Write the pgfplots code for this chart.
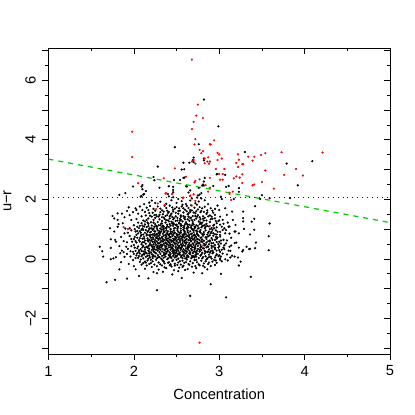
\documentclass[border=0pt]{standalone}
\usepackage{pgfplots}
\pgfplotsset{compat=1.18}
\usepackage{fontspec}
\setmainfont{Liberation Sans}
\begin{document}
\begin{tikzpicture}[x=1pt,y=1pt]
\path[use as bounding box] (-48.5,-61) rectangle (366.5,354);
\begin{axis}[
  at={(0,0)},anchor=south west,scale only axis,width=341.5pt,height=305.7pt,
  xmin=1,xmax=5,ymin=-3.19,ymax=7.07,
  xtick={1,2,3,4,5},ytick={-3,-2,-1,0,1,2,3,4,5,6,7},
  yticklabels={,−2,,0,,2,,4,,6,},
  minor x tick num=1,minor y tick num=1,
  tick align=outside,xtick pos=bottom,ytick pos=left,
  major tick length=6pt,minor tick length=3pt,
  tick style={black,line width=0.7pt},axis line style={line width=0.9pt},
  clip=true,
  /pgf/number format/assume math mode=true,
  tick label style={font=\fontsize{14.7}{16}\selectfont},
  label style={font=\fontsize{14.7}{16}\selectfont},
  xlabel={Concentration},ylabel={u−r},
  xlabel style={at={(0.5,0)},anchor=center,yshift=-40pt},
  ylabel style={at={(0,0.5)},anchor=center,yshift=41pt},
  xticklabel style={anchor=center,yshift=-11pt},
  yticklabel style={rotate=90,anchor=center,yshift=12pt},
]
\addplot[only marks,mark=*,mark size=0.95pt,mark options={draw=black,fill=black,line width=0.3pt}] coordinates {
(2.82,5.35)(2.99,4.45)(2.48,3.75)(2.76,3.85)(3.30,3.59)(4.09,3.28)(3.79,3.20)(2.70,3.40)(2.69,3.32)(2.70,3.25)(2.82,3.37)(2.82,3.31)(2.58,3.23)(2.65,3.23)(2.56,3.00)(2.59,3.01)(2.28,3.10)(2.98,2.85)(2.97,2.84)(3.07,2.82)(2.23,2.75)(2.24,2.64)(2.47,2.65)(2.54,2.65)(2.58,2.72)(2.59,2.73)(2.83,2.72)(2.82,2.60)(2.81,2.50)(2.80,2.46)(2.82,2.46)(3.92,2.47)(2.93,2.45)(3.11,2.45)(3.08,2.42)(3.23,2.38)(3.23,2.25)(2.10,2.48)(2.09,2.43)(2.10,2.34)(1.99,2.43)(2.30,2.39)(2.41,2.44)(2.46,2.42)(2.46,2.32)(2.46,2.24)(2.61,2.44)(2.62,2.43)(2.64,2.23)(2.66,2.30)(2.76,2.38)(2.11,2.16)(2.08,2.09)(2.41,2.10)(2.46,2.07)(2.40,2.18)(3.50,2.14)(3.59,2.04)(3.48,2.01)(3.83,2.04)(3.02,2.09)(3.03,2.01)(3.17,2.01)(2.75,2.13)(2.77,2.16)(2.79,2.21)(2.74,2.06)(2.79,2.03)(2.52,2.01)(2.68,2.03)
(1.83,2.15)(1.90,2.21)(2.09,2.11)(2.12,2.18)(2.14,2.28)
(1.94,1.73)(1.92,1.61)(2.02,1.70)(2.03,1.64)(2.10,1.64)(1.99,1.57)(1.81,1.53)(1.75,1.44)(1.77,1.36)(1.81,1.31)(1.82,1.17)(1.81,1.08)(1.72,1.03)(1.77,0.92)(1.87,1.20)(1.89,1.40)(1.97,1.31)(2.03,1.34)(2.05,1.22)(2.09,1.20)(2.11,1.29)(2.15,1.31)(2.18,1.89)(2.19,1.78)(2.15,1.72)(2.17,1.64)(1.95,1.03)(1.89,0.86)(1.95,0.77)(2.02,0.92)(2.03,0.81)(1.73,0.66)(1.78,0.64)(1.79,0.58)(1.88,0.60)(1.92,0.56)(1.98,0.58)(2.02,0.60)(1.91,0.41)(1.60,0.41)(1.63,0.26)(1.73,0.37)(1.64,0.08)(1.86,0.28)(1.88,0.23)(1.76,0.02)(1.79,0.06)(1.73,-0.01)(1.84,0.19)(1.92,0.17)(1.85,-0.11)(1.94,-0.17)(2.00,-0.24)(2.02,-0.35)(2.07,-0.10)(2.13,-0.09)(1.83,-0.35)(1.92,-0.66)(1.78,-0.70)(1.68,-0.78)(2.06,-0.57)(2.17,-0.65)(2.23,-0.44)(2.27,-0.48)(2.34,-0.43)(2.27,-1.05)
(3.28,1.59)(3.28,1.37)(3.28,1.26)(3.42,1.77)(3.41,1.35)(3.38,1.25)(3.59,1.19)(3.41,0.98)(3.29,1.01)(3.36,0.82)(3.58,0.76)(3.43,0.55)(3.32,0.41)(3.42,0.36)(3.58,0.29)(3.35,0.33)(3.36,0.34)(3.28,0.30)(3.27,0.25)(3.23,0.38)(3.20,0.55)(3.18,0.53)(3.14,0.45)(3.12,0.41)(3.13,0.27)(3.15,0.11)(3.13,0.05)(3.18,0.08)(3.22,0.05)(3.25,-0.09)(3.23,-0.22)(3.07,-0.01)(3.01,0.02)(2.95,-0.20)(2.90,-0.24)(2.83,-0.28)(2.80,-0.48)(3.02,-0.50)(2.90,-0.85)(3.37,-0.60)(3.08,-1.29)(3.19,1.14)(3.19,0.92)(3.23,0.86)(3.18,0.92)(3.16,1.31)(3.12,1.09)(3.11,1.08)(3.15,1.59)(3.07,1.70)(3.09,1.48)(3.00,1.64)(3.01,1.42)(2.95,1.48)(2.97,1.20)(3.03,1.08)(3.07,0.86)(3.01,0.75)(3.05,0.64)(2.66,-1.24)(2.56,-0.64)(2.45,-0.52)(2.52,-0.41)(2.60,-0.37)(2.70,-0.46)
(3.10,1.22)(3.04,1.31)(2.92,1.62)(2.98,1.79)(2.87,1.84)(2.90,1.70)(2.83,1.75)(3.14,0.71)(3.09,0.62)(3.11,0.28)(3.06,0.33)(3.04,0.18)(3.09,0.15)(2.99,0.10)(3.03,-0.08)(3.10,-0.05)(2.97,-0.13)(2.92,-0.09)
(2.13,-0.33)(2.21,-0.27)(2.29,-0.36)(2.33,-0.22)(2.38,-0.31)(2.44,-0.25)(2.47,-0.38)(2.53,-0.29)(2.58,-0.23)(2.63,-0.34)(2.68,-0.26)(2.73,-0.31)(2.77,-0.21)(2.86,-0.35)
(2.08,-0.02)(2.11,-0.14)(2.16,-0.05)(2.18,-0.17)(2.22,-0.08)(2.24,-0.19)(2.26,-0.03)(2.29,-0.12)(2.31,-0.18)(2.34,-0.06)(2.36,-0.15)(2.39,-0.01)(2.41,-0.11)(2.43,-0.18)(2.45,-0.07)(2.48,-0.16)(2.50,-0.03)(2.52,-0.12)(2.55,-0.19)(2.57,-0.06)(2.59,-0.13)(2.62,-0.02)(2.64,-0.17)(2.66,-0.08)(2.69,-0.14)(2.71,-0.04)(2.74,-0.11)(2.76,-0.18)(2.79,-0.06)(2.82,-0.15)(2.85,-0.02)(2.88,-0.12)(2.94,-0.03)
(2.03,0.12)(2.05,0.04)(2.07,0.18)(2.09,0.09)(2.11,0.02)(2.12,0.15)(2.14,0.07)(2.15,0.19)(2.17,0.01)(2.18,0.11)(2.19,0.05)(2.21,0.16)(2.22,0.03)(2.23,0.12)(2.25,0.08)(2.26,0.19)(2.27,0.02)(2.28,0.13)(2.30,0.06)(2.31,0.17)(2.32,0.01)(2.33,0.10)(2.35,0.04)(2.36,0.15)(2.37,0.08)(2.38,0.19)(2.40,0.02)(2.41,0.12)(2.42,0.06)(2.43,0.17)(2.44,0.03)(2.46,0.10)(2.47,0.15)(2.48,0.05)(2.49,0.19)(2.50,0.08)(2.51,0.13)(2.52,0.01)(2.53,0.17)(2.55,0.06)(2.56,0.11)(2.57,0.03)(2.58,0.15)(2.59,0.09)(2.61,0.18)(2.62,0.04)(2.63,0.12)(2.64,0.07)(2.66,0.16)(2.67,0.02)(2.68,0.10)(2.69,0.19)(2.71,0.05)(2.72,0.13)(2.73,0.08)(2.75,0.17)(2.76,0.03)(2.78,0.11)(2.79,0.15)(2.81,0.06)(2.83,0.18)(2.84,0.09)(2.86,0.02)(2.88,0.14)(2.90,0.07)(2.92,0.19)(2.95,0.05)(2.97,0.16)(3.00,0.12)(3.02,0.08)
(2.02,0.27)(2.04,0.36)(2.06,0.23)(2.08,0.33)(2.10,0.39)(2.11,0.25)(2.13,0.31)(2.14,0.21)(2.16,0.38)(2.17,0.28)(2.18,0.34)(2.20,0.22)(2.21,0.30)(2.22,0.37)(2.23,0.26)(2.24,0.33)(2.25,0.21)(2.27,0.39)(2.28,0.28)(2.29,0.35)(2.30,0.23)(2.31,0.31)(2.32,0.38)(2.33,0.25)(2.34,0.33)(2.35,0.21)(2.36,0.29)(2.37,0.37)(2.38,0.24)(2.39,0.34)(2.40,0.28)(2.41,0.39)(2.42,0.22)(2.43,0.31)(2.44,0.36)(2.45,0.26)(2.46,0.33)(2.47,0.21)(2.48,0.29)(2.49,0.38)(2.50,0.24)(2.51,0.34)(2.52,0.28)(2.53,0.37)(2.54,0.22)(2.55,0.31)(2.56,0.39)(2.57,0.26)(2.58,0.33)(2.59,0.21)(2.60,0.29)(2.61,0.36)(2.62,0.24)(2.63,0.32)(2.64,0.38)(2.65,0.27)(2.66,0.22)(2.67,0.34)(2.68,0.29)(2.69,0.39)(2.70,0.24)(2.71,0.31)(2.72,0.36)(2.73,0.22)(2.74,0.28)(2.75,0.34)(2.77,0.25)(2.78,0.38)(2.79,0.30)(2.80,0.21)(2.82,0.35)(2.83,0.27)(2.85,0.39)(2.86,0.23)(2.88,0.32)(2.90,0.26)(2.91,0.37)(2.93,0.22)(2.95,0.33)(2.97,0.28)(2.99,0.38)(3.01,0.24)(3.03,0.31)
(2.00,0.47)(2.03,0.55)(2.05,0.42)(2.07,0.58)(2.09,0.49)(2.11,0.44)(2.12,0.56)(2.14,0.51)(2.15,0.41)(2.17,0.59)(2.18,0.46)(2.19,0.53)(2.21,0.43)(2.22,0.57)(2.23,0.49)(2.24,0.41)(2.25,0.54)(2.26,0.47)(2.27,0.59)(2.28,0.44)(2.29,0.52)(2.30,0.41)(2.31,0.56)(2.32,0.48)(2.33,0.43)(2.34,0.58)(2.35,0.51)(2.36,0.45)(2.37,0.55)(2.38,0.42)(2.39,0.49)(2.40,0.59)(2.41,0.46)(2.42,0.53)(2.43,0.41)(2.44,0.57)(2.45,0.48)(2.46,0.44)(2.47,0.55)(2.48,0.51)(2.49,0.42)(2.50,0.59)(2.51,0.47)(2.52,0.54)(2.53,0.43)(2.54,0.57)(2.55,0.49)(2.56,0.41)(2.57,0.53)(2.58,0.46)(2.59,0.58)(2.60,0.44)(2.61,0.51)(2.62,0.56)(2.63,0.42)(2.64,0.48)(2.65,0.54)(2.66,0.45)(2.67,0.59)(2.68,0.41)(2.69,0.52)(2.70,0.47)(2.71,0.56)(2.72,0.43)(2.73,0.50)(2.74,0.58)(2.75,0.44)(2.76,0.53)(2.78,0.47)(2.79,0.41)(2.80,0.57)(2.82,0.51)(2.83,0.45)(2.85,0.55)(2.86,0.42)(2.88,0.49)(2.89,0.58)(2.91,0.44)(2.93,0.53)(2.95,0.47)(2.97,0.57)(3.00,0.43)(3.02,0.52)(3.06,0.46)
(2.04,0.71)(2.06,0.63)(2.08,0.77)(2.10,0.68)(2.12,0.74)(2.13,0.62)(2.15,0.79)(2.16,0.69)(2.18,0.64)(2.19,0.75)(2.20,0.61)(2.22,0.72)(2.23,0.67)(2.24,0.78)(2.25,0.63)(2.26,0.70)(2.28,0.76)(2.29,0.64)(2.30,0.79)(2.31,0.68)(2.32,0.61)(2.33,0.74)(2.34,0.66)(2.35,0.78)(2.36,0.63)(2.37,0.71)(2.38,0.76)(2.39,0.62)(2.40,0.69)(2.41,0.79)(2.42,0.65)(2.43,0.73)(2.44,0.61)(2.45,0.77)(2.46,0.68)(2.47,0.64)(2.48,0.75)(2.49,0.70)(2.50,0.62)(2.51,0.78)(2.52,0.66)(2.53,0.73)(2.54,0.61)(2.55,0.76)(2.56,0.69)(2.57,0.64)(2.58,0.79)(2.59,0.71)(2.60,0.62)(2.61,0.75)(2.62,0.67)(2.63,0.78)(2.64,0.63)(2.65,0.72)(2.66,0.68)(2.67,0.61)(2.68,0.76)(2.69,0.65)(2.70,0.79)(2.71,0.70)(2.72,0.62)(2.73,0.74)(2.74,0.67)(2.76,0.77)(2.77,0.63)(2.78,0.71)(2.80,0.65)(2.81,0.78)(2.82,0.61)(2.84,0.73)(2.85,0.67)(2.87,0.76)(2.89,0.62)(2.91,0.70)(2.93,0.78)(2.95,0.64)(2.98,0.72)
(2.05,0.86)(2.07,0.93)(2.09,0.81)(2.11,0.97)(2.13,0.88)(2.15,0.83)(2.17,0.95)(2.19,0.89)(2.20,0.81)(2.22,0.98)(2.24,0.85)(2.25,0.92)(2.26,0.81)(2.28,0.96)(2.29,0.87)(2.30,0.83)(2.32,0.93)(2.33,0.99)(2.34,0.84)(2.35,0.90)(2.37,0.81)(2.38,0.96)(2.39,0.87)(2.40,0.93)(2.41,0.82)(2.43,0.98)(2.44,0.85)(2.45,0.91)(2.46,0.81)(2.47,0.95)(2.48,0.88)(2.50,0.84)(2.51,0.97)(2.52,0.91)(2.53,0.82)(2.54,0.87)(2.55,0.94)(2.57,0.81)(2.58,0.98)(2.59,0.86)(2.60,0.91)(2.61,0.83)(2.63,0.96)(2.64,0.88)(2.65,0.81)(2.66,0.93)(2.68,0.85)(2.69,0.98)(2.70,0.90)(2.71,0.82)(2.73,0.95)(2.74,0.87)(2.75,0.81)(2.77,0.92)(2.78,0.97)(2.80,0.84)(2.82,0.90)(2.84,0.96)(2.86,0.82)(2.88,0.92)(2.90,0.86)(2.92,0.98)(2.95,0.83)(2.98,0.91)(3.04,0.97)
(2.07,1.11)(2.10,1.02)(2.13,1.16)(2.15,1.07)(2.17,1.18)(2.19,1.03)(2.21,1.12)(2.23,1.01)(2.25,1.17)(2.27,1.08)(2.29,1.13)(2.31,1.02)(2.33,1.19)(2.35,1.09)(2.37,1.04)(2.39,1.15)(2.41,1.07)(2.43,1.01)(2.45,1.18)(2.46,1.11)(2.48,1.04)(2.50,1.15)(2.52,1.08)(2.53,1.19)(2.55,1.02)(2.56,1.12)(2.58,1.06)(2.60,1.17)(2.62,1.03)(2.63,1.10)(2.65,1.15)(2.67,1.05)(2.69,1.19)(2.71,1.08)(2.73,1.13)(2.75,1.02)(2.77,1.17)(2.79,1.06)(2.81,1.12)(2.83,1.03)(2.85,1.18)(2.88,1.09)(2.91,1.04)(2.94,1.15)
(2.13,1.26)(2.17,1.36)(2.20,1.23)(2.23,1.31)(2.25,1.38)(2.28,1.24)(2.30,1.33)(2.33,1.27)(2.35,1.39)(2.37,1.22)(2.40,1.30)(2.42,1.36)(2.44,1.25)(2.46,1.33)(2.49,1.28)(2.51,1.38)(2.53,1.22)(2.55,1.31)(2.57,1.26)(2.59,1.37)(2.61,1.23)(2.63,1.33)(2.65,1.28)(2.67,1.39)(2.69,1.24)(2.71,1.31)(2.73,1.36)(2.76,1.26)(2.78,1.33)(2.80,1.22)(2.83,1.38)(2.85,1.29)(2.89,1.24)(2.92,1.35)(2.96,1.27)
(2.19,1.45)(2.22,1.55)(2.26,1.48)(2.29,1.42)(2.31,1.57)(2.34,1.50)(2.37,1.44)(2.40,1.54)(2.43,1.47)(2.46,1.59)(2.49,1.43)(2.52,1.52)(2.55,1.46)(2.58,1.56)(2.60,1.41)(2.63,1.50)(2.66,1.58)(2.69,1.44)(2.72,1.53)(2.75,1.47)(2.78,1.57)(2.81,1.43)(2.85,1.51)(2.89,1.46)(2.93,1.55)
(2.23,1.68)(2.28,1.76)(2.33,1.63)(2.38,1.71)(2.42,1.79)(2.46,1.65)(2.50,1.74)(2.54,1.62)(2.58,1.70)(2.62,1.78)(2.66,1.64)(2.71,1.72)(2.75,1.66)(2.79,1.61)
(2.31,1.92)(2.38,1.85)(2.44,1.97)(2.50,1.88)(2.56,1.94)(2.61,1.84)(2.66,1.96)(2.72,1.87)(2.76,1.93)(2.83,1.97)
(2.41,0.14)(2.47,0.27)(2.53,0.44)(2.44,0.62)(2.58,0.77)(2.36,0.91)(2.62,1.02)(2.31,0.46)(2.72,0.24)(2.49,0.11)(2.55,0.36)(2.38,0.52)(2.66,0.63)(2.42,0.84)(2.59,0.94)(2.33,1.07)(2.68,1.13)(2.46,1.22)(2.54,1.34)(2.39,1.47)(2.64,1.53)(2.27,0.84)(2.74,0.93)(2.21,0.64)(2.79,0.72)(2.17,0.43)(2.84,0.48)(2.24,0.23)(2.77,0.31)(2.29,0.07)(2.70,0.09)(2.35,-0.09)(2.61,-0.11)(2.48,-0.22)
(2.23,1.22)(2.27,1.43)(2.32,1.19)(2.36,1.34)(2.41,1.26)(2.45,1.41)(2.49,1.14)(2.54,1.28)(2.58,1.44)(2.62,1.18)(2.66,1.37)(2.70,1.16)(2.74,1.42)(2.78,1.22)(2.82,1.29)(2.86,1.11)(2.90,1.33)(2.94,1.03)(2.99,1.27)(2.21,1.03)(2.26,1.11)(2.30,0.93)(2.34,1.12)(2.38,1.03)(2.42,1.17)(2.47,1.02)(2.51,1.09)(2.55,1.11)(2.59,1.04)(2.64,1.06)(2.68,1.01)(2.72,1.07)(2.76,1.04)(2.80,1.10)(2.84,1.08)(2.87,0.88)(2.91,0.91)(2.96,0.96)(3.01,0.91)(3.06,1.03)
(2.16,1.22)(2.12,1.09)(2.09,0.98)(2.06,1.04)(2.14,1.46)(2.18,1.54)(2.21,1.42)(2.25,1.62)(2.30,1.48)(2.35,1.59)(2.39,1.62)(2.44,1.52)(2.48,1.69)(2.52,1.61)(2.56,1.76)(2.60,1.65)(2.64,1.71)(2.68,1.63)(2.73,1.60)(2.77,1.74)(2.82,1.58)(2.86,1.63)(2.91,1.42)(2.95,1.36)(3.00,1.30)(3.05,1.18)(3.08,0.97)(3.12,0.85)
(2.23,0.32)(2.28,0.53)(2.33,0.71)(2.37,0.17)(2.43,0.47)(2.48,0.66)(2.52,0.18)(2.57,0.61)(2.61,0.27)(2.65,0.42)(2.70,0.66)(2.73,0.16)(2.77,0.54)(2.81,0.36)(2.85,0.72)(2.89,0.21)(2.93,0.42)(2.97,0.68)(3.02,0.62)(3.05,0.38)(3.08,0.52)(3.01,-0.03)(2.96,-0.05)(2.91,0.01)(2.87,0.25)(2.84,-0.08)(2.80,0.02)(2.73,-0.03)(2.68,0.05)(2.60,0.02)(2.54,-0.08)(2.46,-0.04)(2.40,-0.13)(2.33,-0.02)(2.28,0.04)(2.20,-0.03)(2.14,-0.12)(2.10,0.14)(2.06,0.29)(2.04,0.19)(2.01,0.38)(1.99,0.24)(1.97,0.43)(1.96,0.08)(1.99,-0.04)(2.02,0.03)(2.09,-0.19)(2.15,-0.22)(2.20,-0.14)(2.27,-0.24)(2.36,-0.28)(2.42,-0.21)(2.51,-0.20)(2.57,-0.27)(2.65,-0.20)(2.72,-0.24)(2.81,-0.23)(2.87,-0.17)
(1.85,0.74)(1.90,1.02)(1.93,0.88)(1.97,0.96)(2.00,1.13)(2.04,1.08)(2.01,0.74)(1.97,0.67)(1.93,0.34)(1.96,0.26)(1.89,0.07)(1.83,0.43)(1.86,1.52)(1.95,1.47)(2.05,1.52)(2.09,1.43)(2.13,1.58)(2.07,1.76)(2.12,1.84)(2.21,1.96)(2.25,1.88)
(2.35,0.13)(2.39,0.25)(2.43,0.09)(2.46,0.20)(2.50,0.31)(2.54,0.14)(2.58,0.24)(2.62,0.10)(2.65,0.19)(2.69,0.07)(2.33,0.47)(2.37,0.33)(2.41,0.56)(2.45,0.38)(2.49,0.52)(2.52,0.39)(2.56,0.46)(2.60,0.54)(2.63,0.37)(2.67,0.47)(2.71,0.38)(2.75,0.52)(2.30,0.70)(2.34,0.60)(2.38,0.67)(2.42,0.74)(2.46,0.60)(2.50,0.72)(2.54,0.67)(2.57,0.74)(2.61,0.65)(2.64,0.76)(2.68,0.70)(2.72,0.77)(2.75,0.66)(2.79,0.59)
(2.31,0.88)(2.35,0.97)(2.39,0.83)(2.43,0.91)(2.47,0.86)(2.51,0.80)(2.55,0.88)(2.59,0.83)(2.63,0.90)(2.67,0.84)(2.70,0.96)(2.74,0.83)(2.78,0.89)(2.82,0.83)(2.27,1.02)(2.31,1.13)(2.35,1.03)(2.39,1.09)(2.43,1.12)(2.47,1.17)(2.51,1.03)(2.55,1.17)(2.59,1.11)(2.63,1.15)(2.67,1.11)(2.71,1.02)(2.75,1.11)(2.79,1.18)(2.83,1.14)
(2.18,0.24)(2.22,0.09)(2.26,0.31)(2.20,0.47)(2.24,0.58)(2.28,0.36)(2.16,0.62)(2.20,0.71)(2.24,0.93)(2.28,0.69)(2.18,0.80)(2.14,0.97)(2.11,0.82)(2.07,0.70)(2.10,0.56)(2.13,0.38)(2.09,0.27)(2.12,0.18)(2.16,0.11)(2.84,0.24)(2.88,0.06)(2.92,0.28)(2.96,0.11)(3.00,0.30)(2.87,0.41)(2.91,0.53)(2.95,0.38)(2.99,0.50)(2.87,0.60)(2.92,0.64)(2.96,0.74)(3.00,0.58)(2.89,0.79)(2.93,0.86)(2.97,0.82)(3.01,0.81)(2.89,1.00)(2.93,1.12)(2.97,1.06)(3.01,1.15)
(2.24,1.47)(2.33,1.40)(2.38,1.30)(2.42,1.43)(2.47,1.37)(2.51,1.29)(2.55,1.41)(2.60,1.33)(2.64,1.42)(2.68,1.30)(2.72,1.44)(2.77,1.40)(2.81,1.35)(2.87,1.43)(2.31,1.69)(2.36,1.78)(2.41,1.58)(2.45,1.73)(2.49,1.55)(2.53,1.70)(2.57,1.82)(2.62,1.60)(2.67,1.80)(2.70,1.56)(2.74,1.82)(2.80,1.70)(2.86,1.56)(2.95,1.68)
(2.20,0.91)(2.17,1.10)(2.10,1.12)(2.04,0.94)(2.01,1.00)(2.00,0.67)(2.00,0.17)(2.06,0.10)(2.13,0.24)(2.18,0.18)(2.22,0.41)(2.26,0.73)(2.12,0.68)(2.18,1.01)(2.24,1.08)(2.16,0.91)(2.22,0.82)(2.08,0.88)
};
\addplot[only marks,mark=*,mark size=0.95pt,mark options={draw=red,fill=red,line width=0.3pt}] coordinates {
(2.68,6.69)(2.75,5.18)(2.73,4.81)(2.81,4.73)(2.70,4.60)(2.68,4.36)(1.98,4.27)(2.72,4.02)(2.71,3.84)(2.94,3.98)(2.89,3.85)(2.90,3.84)(2.77,3.66)(2.81,3.62)(2.79,3.55)(2.98,3.56)(3.00,3.51)(2.87,3.41)(2.83,3.37)(2.86,3.27)(2.89,3.27)(2.88,3.20)(2.83,3.21)(2.70,3.32)(2.68,3.27)(2.72,3.20)(3.03,3.37)(2.98,3.32)(3.22,3.51)(3.23,3.33)(3.20,3.22)(3.27,3.18)(3.28,3.18)(3.22,3.09)(3.34,3.43)(3.41,3.43)(3.49,3.49)(3.54,3.55)(3.39,3.30)(3.73,3.58)(4.21,3.57)(1.98,3.42)(2.48,3.04)(2.96,3.02)(3.06,3.02)(3.54,2.97)(3.90,3.02)(3.76,2.82)(3.98,2.80)(3.27,2.84)(3.00,2.85)(3.04,2.85)(3.20,2.77)(3.17,2.71)(3.24,2.73)(3.01,2.66)(3.04,2.66)(2.89,2.72)(2.77,2.67)(2.35,2.71)(2.61,2.76)(2.72,2.62)(2.71,2.57)(2.05,2.54)(3.27,2.55)(3.50,2.58)(3.41,2.50)(3.39,2.47)(3.64,2.36)(2.89,2.39)(2.84,2.48)(2.38,2.20)(3.12,2.18)(2.45,2.18)(2.66,2.13)(2.58,2.06)(3.16,2.26)(1.88,1.07)(1.93,1.00)(2.26,1.67)(2.28,1.86)(2.36,1.81)(2.37,2.20)(2.45,2.18)(2.57,2.05)(2.66,2.11)(2.70,2.17)(2.72,1.95)(2.68,1.79)(2.77,-2.81)(2.89,1.11)(2.81,0.45)(3.12,2.22)(3.14,1.98)(2.87,2.26)
};
\addplot[draw={rgb,255:red,0;green,205;blue,0},line width=1.2pt,dash pattern=on 5pt off 5pt] coordinates {(1,3.35)(5,1.22)};
\addplot[draw=blue,line width=0.9pt,dash pattern=on 0.9pt off 4pt] coordinates {(1,2.07)(5,2.07)};
\end{axis}
\begin{axis}[
  at={(0,0)},anchor=south west,scale only axis,width=341.5pt,height=305.7pt,
  xmin=1,xmax=5,ymin=-3.19,ymax=7.07,
  xtick={1,2,3,4,5},ytick={-3,-2,-1,0,1,2,3,4,5,6,7},
  xticklabels={},yticklabels={},
  minor x tick num=1,minor y tick num=1,
  tick align=inside,xtick pos=top,ytick pos=right,
  major tick length=6pt,minor tick length=3pt,
  tick style={black,line width=0.7pt},axis line style={line width=0.9pt},
]
\addplot[draw=none] coordinates {(1,0)(5,0)};
\end{axis}
\end{tikzpicture}
\end{document}
